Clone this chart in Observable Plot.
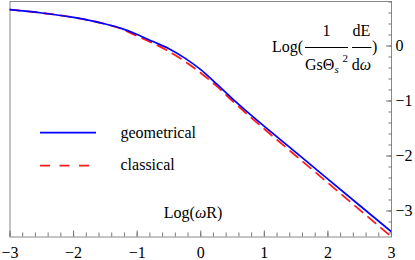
<!DOCTYPE html>
<html><head><meta charset="utf-8">
<script src="https://cdn.jsdelivr.net/npm/d3@7"></script>
<script src="https://cdn.jsdelivr.net/npm/@observablehq/plot@0.6"></script>
<style>
body{margin:0;background:#fff}
svg text{font-family:"Liberation Serif","Times New Roman",serif !important;}
</style>
</head><body><div id="chart"></div>
<script>
const xs = [-3, -2.5, -2, -1.5, -1.25, -1, -0.75, -0.5, -0.25, 0, 0.25, 0.5, 0.75, 1, 1.5, 2, 2.5, 3];
const geometrical = [0.66, 0.60, 0.52, 0.40, 0.32, 0.21, 0.08, -0.05, -0.22, -0.43, -0.69, -0.96, -1.215, -1.46, -1.94, -2.42, -2.90, -3.38];
const classical = [0.66, 0.60, 0.52, 0.40, 0.31, 0.18, 0.05, -0.10, -0.28, -0.49, -0.73, -1.00, -1.26, -1.51, -2.00, -2.49, -2.98, -3.47];
const seriesNames = ["geometrical", "classical"];
const xMajor = [-3, -2, -1, 0, 1, 2, 3];
const yMajor = [0, -1, -2, -3];
const xMinor = d3.range(-30, 31, 2).map(d => d / 10);
const yMinor = d3.range(-34, 9, 2).map(d => d / 10);

const geoData = xs.map((x, i) => ({x, y: geometrical[i]}));
const claData = xs.map((x, i) => ({x, y: classical[i]}));
const FONT = "'Liberation Serif', 'Times New Roman', serif";
const fmt = d => (d < 0 ? "\u2212" : "") + Math.abs(d);

const svg = Plot.plot({
  width: 415,
  height: 260,
  marginLeft: 9.5,
  marginRight: 24,
  marginTop: 1,
  marginBottom: 23.5,
  style: {fontFamily: FONT, fontSize: "16px", color: "#000", background: "#fff", overflow: "visible"},
  x: {domain: [-3, 3]},
  y: {domain: [-3.473, 0.809]},
  marks: [
    Plot.frame({stroke: "#888"}),
    Plot.axisX({ticks: xMinor, tickSize: -4, tickFormat: () => "", stroke: "#777", label: null}),
    Plot.axisX({ticks: xMajor, tickSize: -6, tickFormat: () => "", stroke: "#777", label: null}),
    Plot.axisX({ticks: xMajor, tickSize: 0, tickPadding: 9.5, tickFormat: fmt, label: null, fontSize: 16, fontFamily: FONT, fill: "#000"}),
    Plot.axisY({anchor: "right", ticks: yMinor, tickSize: -3.5, tickFormat: () => "", stroke: "#777", label: null}),
    Plot.axisY({anchor: "right", ticks: yMajor, tickSize: -6, tickFormat: () => "", stroke: "#777", label: null}),
    Plot.axisY({anchor: "right", ticks: yMajor, tickSize: 0, tickPadding: 4, tickFormat: fmt, label: null, fontSize: 16, fontFamily: FONT, fill: "#000"}),
    Plot.line(claData, {x: "x", y: "y", stroke: "#ff1a1a", strokeWidth: 1.8, strokeDasharray: "10,7", curve: "monotone-x", clip: true}),
    Plot.line(geoData, {x: "x", y: "y", stroke: "#0000ff", strokeWidth: 1.7, curve: "monotone-x", clip: true})
  ]
});

const root = d3.select(svg);
const g = root.append("g").attr("font-family", FONT).attr("font-size", 16).attr("fill", "#000").attr("text-anchor", "start");

// legend
g.append("line").attr("x1", 40).attr("x2", 96).attr("y1", 132.7).attr("y2", 132.7)
  .attr("stroke", "#0000ff").attr("stroke-width", 1.7);
g.append("line").attr("x1", 40).attr("x2", 90).attr("y1", 165.7).attr("y2", 165.7)
  .attr("stroke", "#ff1a1a").attr("stroke-width", 1.8).attr("stroke-dasharray", "10,9.5");
g.append("text").attr("x", 120.5).attr("y", 137.5).attr("text-anchor", "start").text(seriesNames[0]);
g.append("text").attr("x", 120.5).attr("y", 170).attr("text-anchor", "start").text(seriesNames[1]);

// x label
const xl = g.append("text").attr("x", 193).attr("y", 218).attr("text-anchor", "middle");
xl.append("tspan").text("Log(");
xl.append("tspan").attr("font-style", "italic").text("ω");
xl.append("tspan").text("R)");

// y label
g.append("text").attr("x", 272).attr("y", 52).attr("text-anchor", "start").text("Log(");
g.append("text").attr("x", 326.5).attr("y", 35.5).attr("text-anchor", "middle").text("1");
g.append("line").attr("x1", 305).attr("x2", 348).attr("y1", 47.5).attr("y2", 47.5).attr("stroke", "#000").attr("stroke-width", 1);
g.append("text").attr("x", 305).attr("y", 70).attr("text-anchor", "start").text("GsΘ");
g.append("text").attr("x", 334.5).attr("y", 73).attr("text-anchor", "start").attr("font-size", 11).attr("font-style", "italic").text("s");
g.append("text").attr("x", 342.5).attr("y", 62).attr("text-anchor", "start").attr("font-size", 11).text("2");
g.append("text").attr("x", 361.5).attr("y", 35.5).attr("text-anchor", "middle").text("dE");
g.append("line").attr("x1", 352).attr("x2", 371.5).attr("y1", 47.5).attr("y2", 47.5).attr("stroke", "#000").attr("stroke-width", 1);
const dw = g.append("text").attr("x", 361.5).attr("y", 70).attr("text-anchor", "middle");
dw.append("tspan").text("d");
dw.append("tspan").attr("font-style", "italic").text("ω");
g.append("text").attr("x", 372).attr("y", 52).attr("text-anchor", "start").text(")");

document.getElementById("chart").appendChild(svg);
</script>
</body></html>
